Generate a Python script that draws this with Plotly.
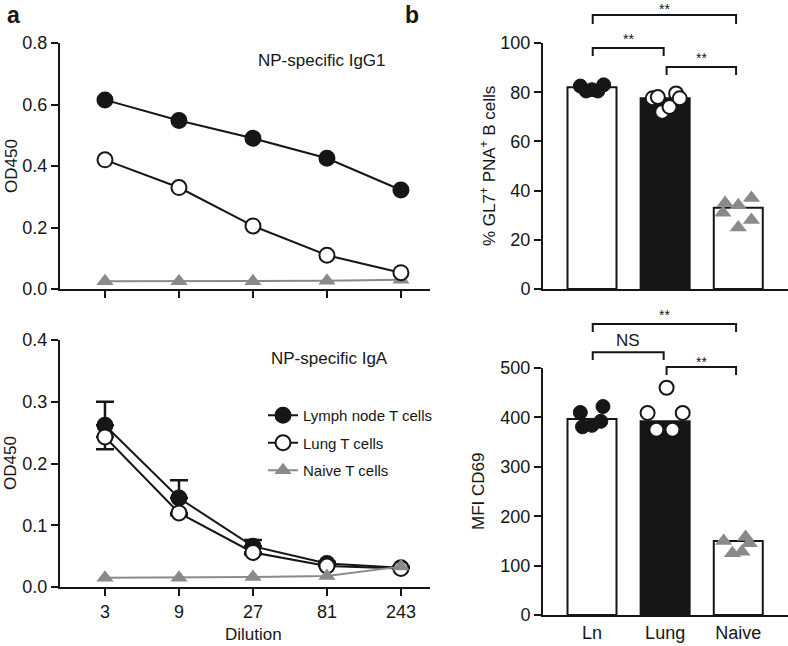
import plotly.graph_objects as go

# --- data ---
dilution = [3, 9, 27, 81, 243]

igg1_ln = [0.615, 0.548, 0.49, 0.425, 0.322]
igg1_lung = [0.42, 0.33, 0.205, 0.11, 0.053]
igg1_naive = [0.025, 0.025, 0.025, 0.027, 0.03]

iga_ln = [0.262, 0.144, 0.066, 0.038, 0.031]
iga_ln_err = [0.038, 0.029, 0.01, 0.003, 0.002]
iga_lung = [0.243, 0.12, 0.056, 0.034, 0.030]
iga_lung_err = [0.02, 0.004, 0.003, 0.0, 0.0]
iga_naive = [0.015, 0.015, 0.016, 0.018, 0.033]

groups = ["Ln", "Lung", "Naive"]
gl7_mean = [82, 77.5, 33]
gl7_ln_x = [-0.16, -0.08, 0.0, 0.08, 0.16]
gl7_ln = [82.5, 80.5, 81, 80.5, 83]
gl7_lung_x = [-0.17, -0.1, -0.04, 0.06, 0.15, 0.2]
gl7_lung = [77.5, 78, 72, 74, 79.5, 77.5]
gl7_naive_x = [-0.18, 0.0, 0.18, -0.21, 0.0, 0.18]
gl7_naive = [35, 34, 37, 31, 25, 28]

cd69_mean = [397, 392, 150]
cd69_ln_x = [-0.16, 0.15, -0.13, 0.0, 0.12]
cd69_ln = [410, 422, 381, 384, 392]
cd69_lung_x = [-0.24, 0.24, -0.12, 0.1, 0.02]
cd69_lung = [409, 409, 375, 375, 460]
cd69_naive_x = [-0.2, 0.1, -0.08, 0.05, 0.15]
cd69_naive = [150, 158, 125, 128, 145]

# --- layout geometry ---
W, H = 788, 646
XL = [60 / W, 430 / W]
XR = [543 / W, 1.0]
YT = [1 - 289 / H, 1 - 43 / H]
YBL = [1 - 587 / H, 1 - 340 / H]
YBR = [1 - 615 / H, 1 - 368 / H]
XR_RANGE = [-0.67, 2.68]
LOGRANGE = [0.187, 2.573]

FONT = "Liberation Sans, Arial, sans-serif"
BLACK = "#161616"
GRAY = "#8a8a8a"


def to_paper(v, r, dom):
    return dom[0] + (v - r[0]) / (r[1] - r[0]) * (dom[1] - dom[0])


fig = go.Figure()

# panel a, top: IgG1
fig.add_trace(go.Scatter(x=dilution, y=igg1_naive, mode="lines+markers", xaxis="x", yaxis="y",
                         line=dict(color=GRAY, width=2),
                         marker=dict(symbol="triangle-up", size=15, color=GRAY),
                         showlegend=False, cliponaxis=False))
fig.add_trace(go.Scatter(x=dilution, y=igg1_lung, mode="lines+markers", xaxis="x", yaxis="y",
                         line=dict(color=BLACK, width=2),
                         marker=dict(symbol="circle", size=15, color="white", line=dict(color=BLACK, width=2)),
                         showlegend=False, cliponaxis=False))
fig.add_trace(go.Scatter(x=dilution, y=igg1_ln, mode="lines+markers", xaxis="x", yaxis="y",
                         line=dict(color=BLACK, width=2),
                         marker=dict(symbol="circle", size=15, color=BLACK, line=dict(color=BLACK, width=2)),
                         showlegend=False, cliponaxis=False))

# panel a, bottom: IgA
fig.add_trace(go.Scatter(x=dilution, y=iga_ln, mode="lines+markers", xaxis="x2", yaxis="y2",
                         name="Lymph node T cells", legendgroup="ln",
                         line=dict(color=BLACK, width=2),
                         marker=dict(symbol="circle", size=15, color=BLACK, line=dict(color=BLACK, width=2)),
                         error_y=dict(type="data", array=iga_ln_err, arrayminus=[0] * 5, symmetric=False,
                                      color=BLACK, thickness=2.5, width=9),
                         cliponaxis=False))
fig.add_trace(go.Scatter(x=dilution, y=iga_lung, mode="lines+markers", xaxis="x2", yaxis="y2",
                         name="Lung T cells", legendgroup="lung",
                         line=dict(color=BLACK, width=2),
                         marker=dict(symbol="circle", size=15, color="white", line=dict(color=BLACK, width=2)),
                         error_y=dict(type="data", array=[0] * 5, arrayminus=iga_lung_err, symmetric=False,
                                      color=BLACK, thickness=2.5, width=9),
                         cliponaxis=False))
fig.add_trace(go.Scatter(x=dilution, y=iga_naive, mode="lines+markers", xaxis="x2", yaxis="y2",
                         name="Naive T cells", legendgroup="naive",
                         line=dict(color=GRAY, width=2),
                         marker=dict(symbol="triangle-up", size=15, color=GRAY),
                         cliponaxis=False))

# panel b, top: GL7+ PNA+
fig.add_trace(go.Bar(x=[0, 1, 2], y=gl7_mean, xaxis="x3", yaxis="y3", width=0.67,
                     marker=dict(color=["white", BLACK, "white"], line=dict(color=BLACK, width=2)),
                     showlegend=False))
fig.add_trace(go.Scatter(x=[0 + d for d in gl7_ln_x], y=gl7_ln, mode="markers", xaxis="x3", yaxis="y3",
                         marker=dict(symbol="circle", size=14, color=BLACK, line=dict(color=BLACK, width=1)),
                         showlegend=False, cliponaxis=False))
fig.add_trace(go.Scatter(x=[1 + d for d in gl7_lung_x], y=gl7_lung, mode="markers", xaxis="x3", yaxis="y3",
                         marker=dict(symbol="circle", size=14, color="white", line=dict(color=BLACK, width=2)),
                         showlegend=False, cliponaxis=False))
fig.add_trace(go.Scatter(x=[2 + d for d in gl7_naive_x], y=gl7_naive, mode="markers", xaxis="x3", yaxis="y3",
                         marker=dict(symbol="triangle-up", size=15, color=GRAY),
                         showlegend=False, cliponaxis=False))

# panel b, bottom: MFI CD69
fig.add_trace(go.Bar(x=[0, 1, 2], y=cd69_mean, xaxis="x4", yaxis="y4", width=0.67,
                     marker=dict(color=["white", BLACK, "white"], line=dict(color=BLACK, width=2)),
                     showlegend=False))
fig.add_trace(go.Scatter(x=[0 + d for d in cd69_ln_x], y=cd69_ln, mode="markers", xaxis="x4", yaxis="y4",
                         marker=dict(symbol="circle", size=14, color=BLACK, line=dict(color=BLACK, width=1)),
                         showlegend=False, cliponaxis=False))
fig.add_trace(go.Scatter(x=[1 + d for d in cd69_lung_x], y=cd69_lung, mode="markers", xaxis="x4", yaxis="y4",
                         marker=dict(symbol="circle", size=14, color="white", line=dict(color=BLACK, width=2)),
                         showlegend=False, cliponaxis=False))
fig.add_trace(go.Scatter(x=[2 + d for d in cd69_naive_x], y=cd69_naive, mode="markers", xaxis="x4", yaxis="y4",
                         marker=dict(symbol="triangle-up", size=15, color=GRAY),
                         showlegend=False, cliponaxis=False))

axis_common = dict(showline=True, linecolor=BLACK, linewidth=2, showgrid=False, zeroline=False,
                   ticks="outside", ticklen=7, tickwidth=2, tickcolor=BLACK, automargin=False,
                   tickfont=dict(family=FONT, size=18, color=BLACK))

fig.update_layout(
    width=W, height=H,
    margin=dict(l=0, r=0, t=0, b=0),
    paper_bgcolor="white", plot_bgcolor="white",
    font=dict(family=FONT, color=BLACK),
    barmode="overlay",
    xaxis=dict(axis_common, domain=XL, anchor="y", type="log", range=LOGRANGE,
               tickvals=dilution, showticklabels=False),
    yaxis=dict(axis_common, domain=YT, anchor="x", range=[0, 0.8], dtick=0.2, tickformat=".1f"),
    xaxis2=dict(axis_common, domain=XL, anchor="y2", type="log", range=LOGRANGE,
                tickvals=dilution, ticktext=[str(d) for d in dilution]),
    yaxis2=dict(axis_common, domain=YBL, anchor="x2", range=[0, 0.4], dtick=0.1, tickformat=".1f"),
    xaxis3=dict(axis_common, domain=XR, anchor="y3", range=XR_RANGE, tickvals=[0, 1, 2],
                showticklabels=False, ticks=""),
    yaxis3=dict(axis_common, domain=YT, anchor="x3", range=[0, 100], dtick=20),
    xaxis4=dict(axis_common, domain=XR, anchor="y4", range=XR_RANGE, tickvals=[0, 1, 2],
                ticktext=groups, ticks=""),
    yaxis4=dict(axis_common, domain=YBR, anchor="x4", range=[0, 500], dtick=100),
    legend=dict(x=263 / W, y=1 - 399 / H, xanchor="left", yanchor="top",
                font=dict(family=FONT, size=15, color=BLACK), bgcolor="rgba(0,0,0,0)",
                tracegroupgap=5),
)

annotations = []


def paper_text(x, y, text, size=17, angle=0):
    annotations.append(dict(x=x, y=y, xref="paper", yref="paper", text=text, showarrow=False,
                            textangle=angle, xanchor="center", yanchor="middle",
                            font=dict(family=FONT, size=size, color=BLACK)))


paper_text(322 / W, 1 - 61 / H, "NP-specific IgG1")
paper_text(329 / W, 1 - 358 / H, "NP-specific IgA")
paper_text(11 / W, 1 - 166 / H, "OD450", angle=-90)
paper_text(11 / W, 1 - 463 / H, "OD450", angle=-90)
paper_text(253 / W, 1 - 634 / H, "Dilution")
paper_text(488 / W, 1 - 166 / H, "% GL7<sup>+</sup> PNA<sup>+</sup> B cells", angle=-90)
paper_text(478 / W, 1 - 492 / H, "MFI CD69", angle=-90)
paper_text(13 / W, 1 - 15 / H, "<b>a</b>", size=23)
paper_text(412 / W, 1 - 15 / H, "<b>b</b>", size=23)

shapes = []


def bracket(x0, x1, ytop, ytip, yr, ydom, label, label_y, size=14):
    px0 = to_paper(x0, XR_RANGE, XR)
    px1 = to_paper(x1, XR_RANGE, XR)
    pt = to_paper(ytop, yr, ydom)
    pb = to_paper(ytip, yr, ydom)
    shapes.append(dict(type="path", xref="paper", yref="paper",
                       path=f"M {px0},{pb} L {px0},{pt} L {px1},{pt} L {px1},{pb}",
                       line=dict(color=BLACK, width=2)))
    paper_text((px0 + px1) / 2, to_paper(label_y, yr, ydom), label, size=size)


# significance brackets, top right
bracket(0.01, 1.97, 111.4, 107.7, [0, 100], YT, "**", 114.0)
bracket(0.01, 0.98, 98.0, 94.7, [0, 100], YT, "**", 101.8)
bracket(1.02, 1.97, 90.2, 87.0, [0, 100], YT, "**", 93.8)
# significance brackets, bottom right
bracket(0.01, 1.97, 589, 573, [0, 500], YBR, "**", 608)
bracket(0.01, 0.98, 532, 516, [0, 500], YBR, "NS", 555, size=17)
bracket(1.02, 1.97, 502, 486, [0, 500], YBR, "**", 513)

fig.update_layout(annotations=annotations, shapes=shapes)

fig.write_html("out.html", config={"displayModeBar": False},
               post_script="document.body.style.margin='0px';")
